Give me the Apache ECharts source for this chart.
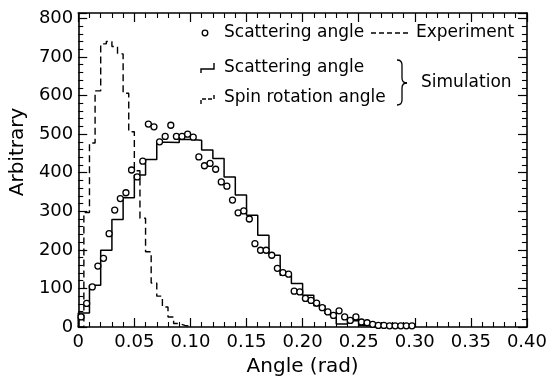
<!DOCTYPE html>
<html>
<head>
<meta charset="utf-8">
<script src="https://cdn.jsdelivr.net/npm/echarts@6/dist/echarts.min.js"></script>
<style>
html,body{margin:0;padding:0;background:#fff;}
#c{width:550px;height:382px;}
</style>
</head>
<body>
<div id="c"></div>
<script>
// ---- data ----
const xTickLabels = ['0','0.05','0.10','0.15','0.20','0.25','0.30','0.35','0.40'];
const yTickLabels = ['0','100','200','300','400','500','600','700','800'];

// Simulation, scattering angle: histogram, bin width 0.01 starting at 0
const simScatterBinWidth = 0.01;
const simScatterValues = [36,108,199,279,335,394,434,479,478,486,484,459,437,389,342,290,238,186,134,113,82,55,35,8,16,4,2,1,1,0];

// Simulation, spin rotation angle: histogram, bin width 0.005 starting at 0
const simSpinBinWidth = 0.005;
const simSpinValues = [0,297,477,612,734,740,727,708,606,506,405,282,195,114,80,52,26,9,4,2];

// Experiment, scattering angle: points at bin centres, spacing 0.005
const expAngles = [0.0025,0.0075,0.0125,0.0175,0.0225,0.0275,0.0325,0.0375,0.0425,0.0475,
  0.0525,0.0575,0.0625,0.0675,0.0725,0.0775,0.0825,0.0875,0.0925,0.0975,
  0.1025,0.1075,0.1125,0.1175,0.1225,0.1275,0.1325,0.1375,0.1425,0.1475,
  0.1525,0.1575,0.1625,0.1675,0.1725,0.1775,0.1825,0.1875,0.1925,0.1975,
  0.2025,0.2075,0.2125,0.2175,0.2225,0.2275,0.2325,0.2375,0.2425,0.2475,
  0.2525,0.2575,0.2625,0.2675,0.2725,0.2775,0.2825,0.2875,0.2925,0.2975];
const expValues = [26,61,104,158,178,242,303,333,348,407,
  389,430,526,519,480,494,523,494,494,500,
  492,441,418,424,409,376,365,329,296,301,
  280,216,199,199,186,152,141,137,93,91,
  74,69,62,50,39,30,42,26,17,26,
  13,11,7,4,4,3,3,3,3,3];

// ---- build step outlines from bins ----
function histOutline(values, w){
  const pts = [[0,0]];
  values.forEach((v,i)=>{ pts.push([i*w, v]); pts.push([(i+1)*w, v]); });
  pts.push([values.length*w, 0]);
  return pts;
}

const FONT = 'DejaVu Sans';
const BLACK = '#000';

const chart = echarts.init(document.getElementById('c'), null, {renderer:'canvas'});

function mkX(pos, showLabel){
  return {
    type:'value', position:pos, min:0, max:0.4, interval:0.05,
    axisLine:{show:true, onZero:false, lineStyle:{color:BLACK, width:1.6}},
    axisTick:{show:true, inside:true, length:9, lineStyle:{color:BLACK, width:1.2}},
    minorTick:{show:true, splitNumber:5, length:5, lineStyle:{color:BLACK, width:1.1}},
    splitLine:{show:false}, minorSplitLine:{show:false},
    axisLabel:{show:showLabel, color:BLACK, fontFamily:FONT, fontSize:18, margin:6,
      formatter:(v)=>{ const i=Math.round(v/0.05); return Math.abs(v-i*0.05)<1e-9 ? (xTickLabels[i]||'') : ''; }},
    name: showLabel ? 'Angle (rad)' : '',
    nameLocation:'middle', nameGap:30,
    nameTextStyle:{color:BLACK, fontFamily:FONT, fontSize:20}
  };
}
function mkY(pos, showLabel){
  return {
    type:'value', position:pos, min:0, max:814, interval:100,
    axisLine:{show:true, onZero:false, lineStyle:{color:BLACK, width:1.6}},
    axisTick:{show:true, inside:true, length:9, lineStyle:{color:BLACK, width:1.2}},
    minorTick:{show:true, splitNumber:5, length:5, lineStyle:{color:BLACK, width:1.1}},
    splitLine:{show:false}, minorSplitLine:{show:false},
    axisLabel:{show:showLabel, color:BLACK, fontFamily:FONT, fontSize:18, margin:5,
      formatter:(v)=>{ const i=Math.round(v/100); return Math.abs(v-i*100)<1e-9 ? (yTickLabels[i]||'') : ''; }},
    name: showLabel ? 'Arbitrary' : '',
    nameLocation:'middle', nameGap:44,
    nameTextStyle:{color:BLACK, fontFamily:FONT, fontSize:20, padding:[0,0,0,36]}
  };
}

const LX = 205, R1 = 33, R2 = 68, R3 = 98, TX = 224;
const legendText = (x,y,t)=>({type:'text', x:x, y:y, style:{text:t, fill:BLACK, font:'17px "DejaVu Sans"', textVerticalAlign:'middle', textAlign:'left'}, z:100});
const braceStyle = {stroke:BLACK, fill:null, lineWidth:1.3};
const BX = 402, BT = 60, BM = 83, BB = 105;

chart.setOption({
  animation:false,
  backgroundColor:'#fff',
  grid:{left:75, right:14, top:13, bottom:55, containLabel:false},
  xAxis:[mkX('bottom', true), mkX('top', false)],
  yAxis:[mkY('left', true), mkY('right', false)],
  series:[
    {type:'line', name:'Simulation scattering angle', xAxisIndex:0, yAxisIndex:0,
     data:histOutline(simScatterValues, simScatterBinWidth), showSymbol:false, symbol:'none',
     lineStyle:{color:BLACK, width:1.5}, z:2},
    {type:'line', name:'Simulation spin rotation angle', xAxisIndex:0, yAxisIndex:0,
     data:histOutline(simSpinValues, simSpinBinWidth), showSymbol:false, symbol:'none',
     lineStyle:{color:BLACK, width:1.4, type:[7,4]}, z:2},
    {type:'scatter', name:'Experiment scattering angle', xAxisIndex:0, yAxisIndex:0,
     data:expAngles.map((a,i)=>[a, expValues[i]]), symbol:'circle', symbolSize:6,
     itemStyle:{color:'#fff', borderColor:BLACK, borderWidth:1.3, opacity:1}, z:3}
  ],
  graphic:[
    {type:'circle', shape:{cx:LX, cy:R1, r:2.8}, style:{fill:'#fff', stroke:BLACK, lineWidth:1.3}, z:100},
    legendText(TX, R1, 'Scattering angle'),
    {type:'line', shape:{x1:371, y1:R1, x2:409, y2:R1}, style:{stroke:BLACK, lineWidth:1.3, lineDash:[5,3]}, z:100},
    legendText(416, R1, 'Experiment'),
    {type:'polyline', shape:{points:[[LX-4,R2+5],[LX-4,R2+1],[LX+9,R2+1],[LX+9,R2-5]]}, style:{stroke:BLACK, fill:null, lineWidth:1.4}, z:100},
    legendText(TX, R2, 'Scattering angle'),
    {type:'polyline', shape:{points:[[LX-4,R3+6],[LX-4,R3+1],[LX+9,R3+1],[LX+9,R3-5]]}, style:{stroke:BLACK, fill:null, lineWidth:1.4, lineDash:[4,2]}, z:100},
    legendText(TX, R3, 'Spin rotation angle'),
    {type:'bezierCurve', shape:{x1:BX-5, y1:BT, cpx1:BX, cpy1:BT, x2:BX, y2:BT+5}, style:braceStyle, z:100},
    {type:'line', shape:{x1:BX, y1:BT+5, x2:BX, y2:BM-5}, style:braceStyle, z:100},
    {type:'bezierCurve', shape:{x1:BX, y1:BM-5, cpx1:BX, cpy1:BM, x2:BX+5, y2:BM}, style:braceStyle, z:100},
    {type:'bezierCurve', shape:{x1:BX+5, y1:BM, cpx1:BX, cpy1:BM, x2:BX, y2:BM+5}, style:braceStyle, z:100},
    {type:'line', shape:{x1:BX, y1:BM+5, x2:BX, y2:BB-5}, style:braceStyle, z:100},
    {type:'bezierCurve', shape:{x1:BX, y1:BB-5, cpx1:BX, cpy1:BB, x2:BX-5, y2:BB}, style:braceStyle, z:100},
    legendText(421, BM, 'Simulation')
  ]
});
</script>
</body>
</html>
